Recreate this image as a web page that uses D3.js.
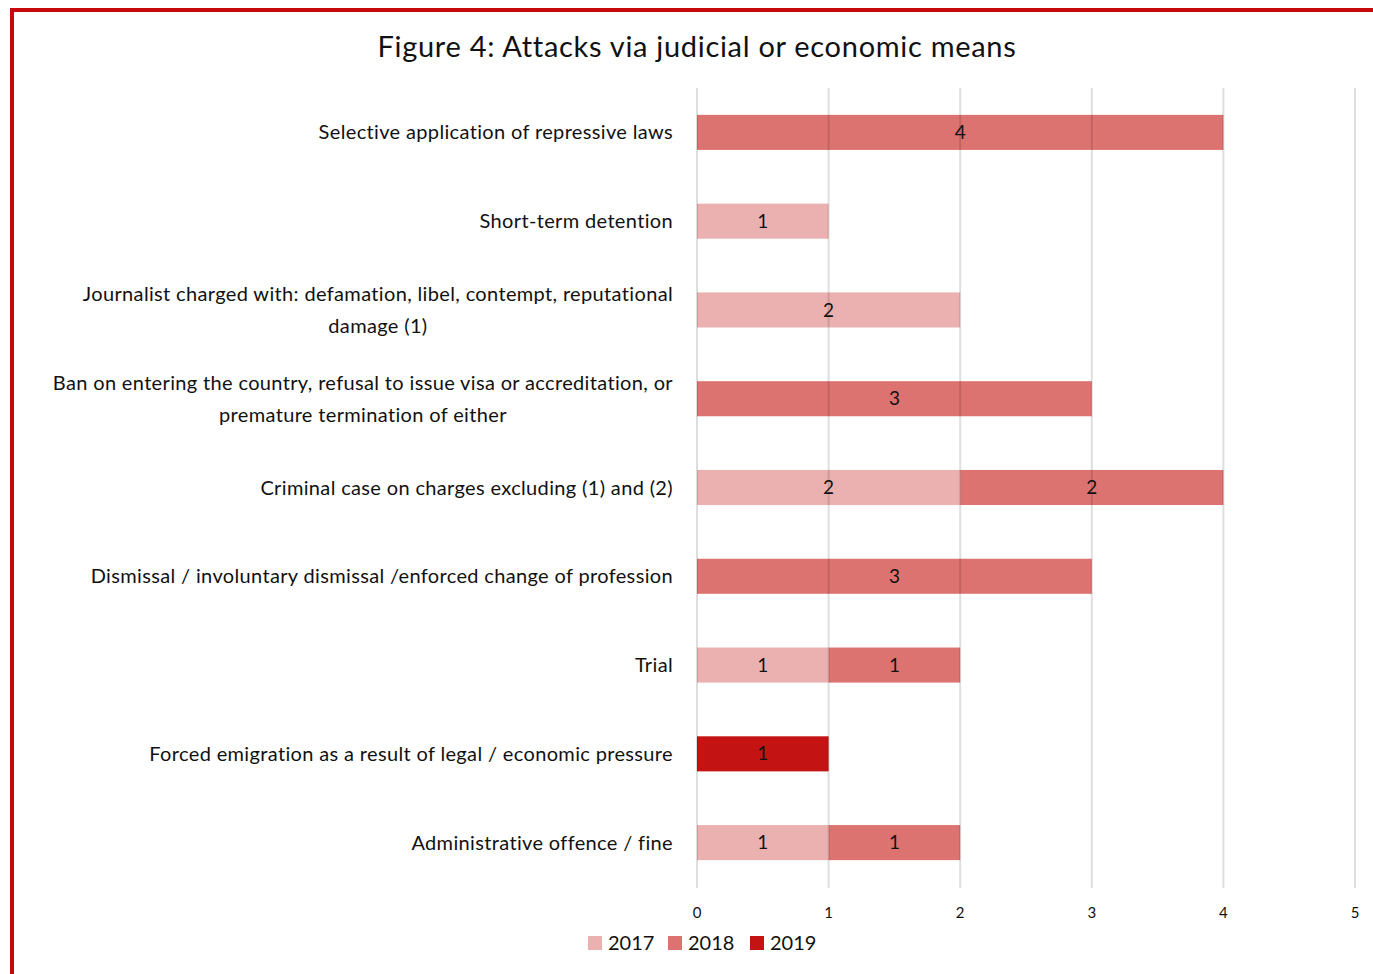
<!DOCTYPE html>
<html>
<head>
<meta charset="utf-8">
<script src="https://cdn.jsdelivr.net/npm/d3@7"></script>
<style>
  html, body { margin: 0; padding: 0; background: #fff; }
  svg { display: block; font-family: Lato, "Open Sans", sans-serif; }
</style>
</head>
<body>
<svg id="chart" width="1373" height="974"></svg>
<script>
// Categories (each entry is a list of label lines)
const categories = [
  ["Selective application of repressive laws"],
  ["Short-term detention"],
  ["Journalist charged with: defamation, libel, contempt, reputational", "damage (1)"],
  ["Ban on entering the country, refusal to issue visa or accreditation, or", "premature termination of either"],
  ["Criminal case on charges excluding (1) and (2)"],
  ["Dismissal / involuntary dismissal /enforced change of profession"],
  ["Trial"],
  ["Forced emigration as a result of legal / economic pressure"],
  ["Administrative offence / fine"]
];
const years = ["2017", "2018", "2019"];
const values2017 = [0, 1, 2, 0, 2, 0, 1, 0, 1];
const values2018 = [4, 0, 0, 3, 2, 3, 1, 0, 1];
const values2019 = [0, 0, 0, 0, 0, 0, 0, 1, 0];
const xTicks = [0, 1, 2, 3, 4, 5];
const colors = ["#ebb1b0", "#dd7371", "#c31313"];
const title = "Figure 4: Attacks via judicial or economic means";

const svg = d3.select("#chart");
const W = 1373, H = 974;

// Frame: red rule along top and left edges
svg.append("line").attr("x1", 10).attr("x2", W).attr("y1", 10).attr("y2", 10)
  .attr("stroke", "#c40a0a").attr("stroke-width", 4);
svg.append("line").attr("x1", 12).attr("x2", 12).attr("y1", 8).attr("y2", H)
  .attr("stroke", "#c40a0a").attr("stroke-width", 4);

svg.append("text").attr("x", 697).attr("y", 57).attr("text-anchor", "middle")
  .attr("font-size", 29).attr("letter-spacing", 0.7).attr("fill", "#111").text(title);

const x = d3.scaleLinear().domain([0, 5]).range([697, 1355]);
const y = d3.scaleBand().domain(d3.range(categories.length)).range([88, 887]).paddingInner(0.605).paddingOuter(0.3025);

const rows = categories.map((c, i) => ({ i, "2017": values2017[i], "2018": values2018[i], "2019": values2019[i] }));
const stacked = d3.stack().keys(years)(rows);

// Bars
const g = svg.append("g");
stacked.forEach((layer, k) => {
  layer.forEach((d, i) => {
    if (d[1] - d[0] <= 0) return;
    g.append("rect")
      .attr("x", x(d[0])).attr("y", y(i))
      .attr("width", x(d[1]) - x(d[0])).attr("height", y.bandwidth())
      .attr("fill", colors[k]);
  });
});

// Gridlines drawn over bars, faint
svg.append("g").selectAll("line").data(xTicks).join("line")
  .attr("x1", d => x(d)).attr("x2", d => x(d))
  .attr("y1", 88).attr("y2", 888)
  .attr("stroke", "#000").attr("stroke-opacity", 0.13).attr("stroke-width", 2);

// Value labels centred in segments
stacked.forEach((layer, k) => {
  layer.forEach((d, i) => {
    const v = d[1] - d[0];
    if (v <= 0) return;
    svg.append("text")
      .attr("x", (x(d[0]) + x(d[1])) / 2).attr("y", y(i) + y.bandwidth() / 2)
      .attr("dy", "0.35em").attr("text-anchor", "middle")
      .attr("font-size", 19).attr("fill", "#111").text(v);
  });
});

// Category labels, right-aligned; wrapped lines centred on the block
const labelRight = 673;
categories.forEach((lines, i) => {
  const cy = y(i) + y.bandwidth() / 2;
  const t = svg.append("text").attr("font-size", 20).attr("letter-spacing", 0.35).attr("fill", "#111");
  const spans = lines.map((ln, j) => t.append("tspan").text(ln));
  const widths = spans.map(s => s.node().getComputedTextLength());
  const maxW = d3.max(widths);
  const lh = 32;
  const top = cy - (lines.length - 1) * lh / 2;
  spans.forEach((s, j) => {
    s.attr("x", labelRight - maxW / 2).attr("y", top + j * lh).attr("dy", "0.35em")
      .attr("text-anchor", "middle");
  });
});

// X axis tick labels
svg.append("g").selectAll("text").data(xTicks).join("text")
  .attr("x", d => x(d)).attr("y", 913).attr("dy", "0.35em")
  .attr("text-anchor", "middle").attr("font-size", 15).attr("fill", "#111")
  .text(d => d);

// Legend
const legendX = [588, 668, 750];
years.forEach((yr, k) => {
  svg.append("rect").attr("x", legendX[k]).attr("y", 936).attr("width", 14).attr("height", 14)
    .attr("fill", colors[k]);
  svg.append("text").attr("x", legendX[k] + 20).attr("y", 943).attr("dy", "0.35em")
    .attr("font-size", 20).attr("fill", "#111").text(yr);
});
</script>
</body>
</html>
